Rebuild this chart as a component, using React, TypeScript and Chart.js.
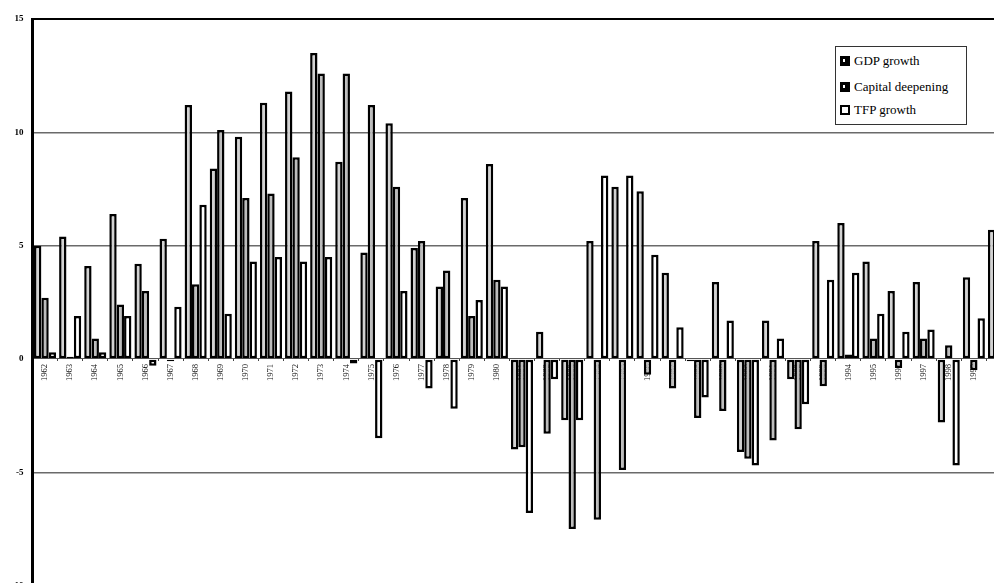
import React, { useEffect, useRef } from "react";
import { Chart, registerables } from "chart.js";

Chart.register(...registerables);

const years = [
  1962, 1963, 1964, 1965, 1966, 1967, 1968, 1969, 1970, 1971, 1972, 1973, 1974,
  1975, 1976, 1977, 1978, 1979, 1980, 1981, 1982, 1983, 1984, 1985, 1986, 1987,
  1988, 1989, 1990, 1991, 1992, 1993, 1994, 1995, 1996, 1997, 1998, 1999, 2000,
];

const gdpGrowth = [
  5.0, 5.4, 4.1, 6.4, 4.2, 5.3, 11.2, 8.4, 9.8, 11.3, 11.8, 13.5, 8.7,
  4.7, 10.4, 4.9, 3.2, 7.1, 8.6, -4.0, 1.2, -2.7, 5.2, 7.6, 7.4, 3.8,
  -0.1, 3.4, -4.1, 1.7, -0.9, 5.2, 6.0, 4.3, 3.0, 3.4, -2.8, 3.6, 5.7,
];

const capitalDeepening = [
  2.7, 0.1, 0.9, 2.4, 3.0, -0.1, 3.3, 10.1, 7.1, 7.3, 8.9, 12.6, 12.6,
  11.2, 7.6, 5.2, 3.9, 1.9, 3.5, -3.9, -3.3, -7.5, -7.1, -4.9, -0.7, -1.3,
  -2.6, -2.3, -4.4, -3.6, -3.1, -1.2, 0.2, 0.9, -0.4, 0.9, 0.6, -0.5, 2.0,
];

const tfpGrowth = [
  0.3, 1.9, 0.3, 1.9, -0.3, 2.3, 6.8, 2.0, 4.3, 4.5, 4.3, 4.5, -0.2,
  -3.5, 3.0, -1.3, -2.2, 2.6, 3.2, -6.8, -0.9, -2.7, 8.1, 8.1, 4.6, 1.4,
  -1.7, 1.7, -4.7, 0.9, -2.0, 3.5, 3.8, 2.0, 1.2, 1.3, -4.7, 1.8, 3.0,
];

const yTicks = [-10, -5, 0, 5, 10, 15];
const seriesNames = ["GDP growth", "Capital deepening", "TFP growth"];

const SERIF = '"Liberation Serif", "Times New Roman", serif';

export default function App() {
  const ref = useRef<HTMLCanvasElement>(null);

  useEffect(() => {
    if (!ref.current) return;
    const chart = new Chart(ref.current, {
      type: "bar",
      data: {
        labels: years.map(String),
        datasets: [
          {
            label: seriesNames[0],
            data: gdpGrowth,
            backgroundColor: "#d2d2d2",
            borderColor: "#000",
            borderWidth: 2.5,
            borderSkipped: false,
          },
          {
            label: seriesNames[1],
            data: capitalDeepening,
            backgroundColor: "#bcbcbc",
            borderColor: "#000",
            borderWidth: 2.5,
            borderSkipped: false,
          },
          {
            label: seriesNames[2],
            data: tfpGrowth,
            backgroundColor: "#ffffff",
            borderColor: "#000",
            borderWidth: 2.5,
            borderSkipped: false,
          },
        ],
      },
      options: {
        animation: false,
        responsive: false,
        maintainAspectRatio: false,
        datasets: { bar: { categoryPercentage: 0.88, barPercentage: 1.0 } },
        layout: { padding: { left: 0, top: 19, right: 2.5, bottom: 6 } },
        plugins: {
          legend: { display: false },
          tooltip: { enabled: false },
        },
        scales: {
          x: {
            position: { y: 0 } as any,
            offset: true,
            grid: {
              display: true,
              drawOnChartArea: false,
              drawTicks: true,
              tickLength: 2,
              color: "#444",
              offset: true,
            },
            border: { display: true, color: "#555", width: 1, dash: [1, 3] },
            ticks: {
              autoSkip: false,
              minRotation: 90,
              maxRotation: 90,
              padding: 3,
              color: "#111",
              font: { family: SERIF, size: 8.5 },
            },
          },
          y: {
            min: -10,
            max: 15,
            afterFit: (s: any) => {
              s.width = 32.5;
            },
            afterBuildTicks: (s: any) => {
              s.ticks = yTicks.map((v) => ({ value: v }));
            },
            ticks: {
              padding: 9,
              color: "#000",
              font: { family: SERIF, size: 9, weight: "bold" },
            },
            grid: {
              drawTicks: false,
              color: (ctx: any) => {
                const v = ctx.tick?.value;
                if (v === 0) return "rgba(0,0,0,0)";
                if (v === 15) return "#000";
                return "#6a6a6a";
              },
              lineWidth: (ctx: any) => (ctx.tick?.value === 15 ? 2 : 1.5),
            },
            border: { display: true, color: "#000", width: 3 },
          },
        },
      },
    });
    return () => chart.destroy();
  }, []);

  const legendRows = [
    { name: seriesNames[0], fill: "#000", mark: true, top: 14 },
    { name: seriesNames[1], fill: "#000", mark: true, top: 40 },
    { name: seriesNames[2], fill: "#fff", mark: false, top: 63 },
  ];

  return (
    <div
      style={{
        position: "fixed",
        left: 0,
        top: 0,
        width: 994,
        height: 583,
        overflow: "hidden",
        background: "#fff",
      }}
    >
      <canvas
        ref={ref}
        width={1014}
        height={600}
        style={{ display: "block", width: 1014, height: 600 }}
      />
      <div
        style={{
          position: "absolute",
          left: 835,
          top: 46,
          width: 130,
          height: 77,
          border: "1px solid #333",
          background: "#fff",
          fontFamily: SERIF,
          fontSize: 13,
          color: "#000",
        }}
      >
        {legendRows.map((r) => (
          <div
            key={r.name}
            style={{
              position: "absolute",
              left: 4,
              top: r.top - 8,
              height: 16,
              display: "flex",
              alignItems: "center",
              whiteSpace: "nowrap",
            }}
          >
            <span
              style={{
                position: "relative",
                display: "inline-block",
                width: 10,
                height: 10,
                boxSizing: "border-box",
                background: r.fill,
                border: "2px solid #000",
                marginRight: 4,
              }}
            >
              {r.mark ? (
                <span
                  style={{
                    position: "absolute",
                    left: 1,
                    top: 1,
                    width: 2,
                    height: 3,
                    background: "#fff",
                  }}
                />
              ) : null}
            </span>
            <span>{r.name}</span>
          </div>
        ))}
      </div>
    </div>
  );
}
